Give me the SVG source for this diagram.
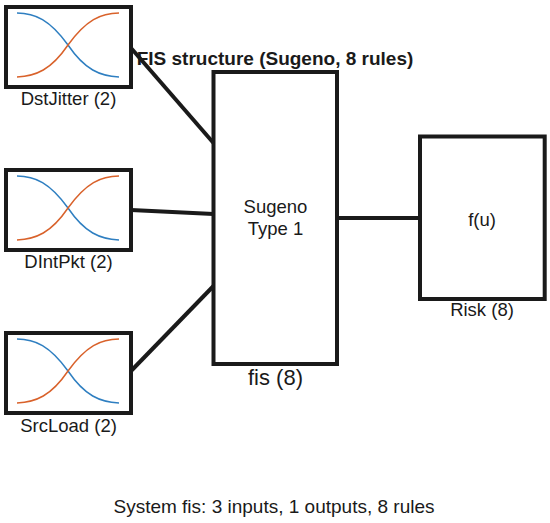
<svg xmlns="http://www.w3.org/2000/svg" width="550" height="523" viewBox="0 0 550 523">
<style>
.box{fill:#fff;stroke:#1a1a1a;stroke-width:4}
.edge{stroke:#1a1a1a;stroke-width:4;fill:none}
.t{font-family:"Liberation Sans",Arial,sans-serif;font-size:18.5px;fill:#1a1a1a;text-anchor:middle}
.big{font-size:22px}
.foot{font-size:19px}
.title{font-family:"Liberation Sans",Arial,sans-serif;font-size:19px;font-weight:bold;fill:#1a1a1a;text-anchor:middle}
.mfb{fill:none;stroke:#2f7fc1;stroke-width:1.5}
.mfo{fill:none;stroke:#d9622b;stroke-width:1.5}
</style>
<defs>
<g id="mf">
<path class="mfb" d="M17,13 C35,13 50,20 68,45 C85,70 100,76 119,77"/>
<path class="mfo" d="M17,77 C36,76 51,70 68,45 C86,20 101,13 119,13"/>
</g>
</defs>
<rect width="550" height="523" fill="#fff"/>
<g id="connectors">
<line class="edge" x1="131" y1="48" x2="213.5" y2="143"/>
<line class="edge" x1="131" y1="210" x2="213.5" y2="214"/>
<line class="edge" x1="131" y1="371" x2="213.5" y2="286"/>
<line class="edge" x1="337" y1="218" x2="420" y2="218"/>
</g>
<g id="DstJitter">
<rect class="box" x="6" y="7" width="125" height="80"/>
<use href="#mf"/>
<text class="t" x="68.5" y="105">DstJitter (2)</text>
</g>
<g id="DIntPkt">
<rect class="box" x="6" y="170" width="125" height="80"/>
<use href="#mf" y="163"/>
<text class="t" x="68.5" y="268">DIntPkt (2)</text>
</g>
<g id="SrcLoad">
<rect class="box" x="6" y="333" width="125" height="80"/>
<use href="#mf" y="326"/>
<text class="t" x="68.5" y="432">SrcLoad (2)</text>
</g>
<g id="fis">
<rect class="box" x="213.5" y="72" width="123.5" height="292"/>
<text class="t" x="275.5" y="213">Sugeno</text>
<text class="t" x="275.5" y="235">Type 1</text>
<text class="t big" x="275.5" y="385">fis (8)</text>
</g>
<g id="Risk">
<rect class="box" x="420" y="136.5" width="124.7" height="162.5"/>
<text class="t" x="482" y="226">f(u)</text>
<text class="t" x="482" y="316">Risk (8)</text>
</g>
<text class="title" x="275" y="65">FIS structure (Sugeno, 8 rules)</text>
<text class="t foot" x="274" y="513">System fis: 3 inputs, 1 outputs, 8 rules</text>
</svg>
